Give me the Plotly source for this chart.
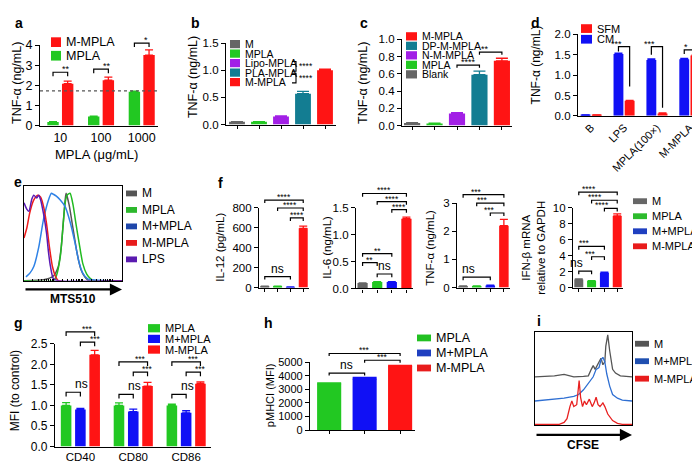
import math
import plotly.graph_objects as go

W, H = 700, 463
FONT = "Arial, 'Liberation Sans', sans-serif"

RED = "#ff1414"
GREEN = "#22c822"
BLUE = "#1010f5"
GRAY = "#666666"
PURPLE = "#a21fe6"
TEAL = "#137d92"

# ---- data ----
a_doses = ["10", "100", "1000"]
a_mpla = [0.18, 0.45, 1.68]
a_mpla_err = [0.02, 0.02, 0.03]
a_mmpla = [2.08, 2.25, 3.50]
a_mmpla_err = [0.13, 0.16, 0.26]
a_cutoff = 1.72

b_groups = ["M", "MPLA", "Lipo-MPLA", "PLA-MPLA", "M-MPLA"]
b_vals = [0.05, 0.05, 0.15, 0.57, 1.0]
b_err = [0.005, 0.005, 0.01, 0.04, 0.02]

c_groups = ["Blank", "MPLA", "N-M-MPLA", "DP-M-MPLA", "M-MPLA"]
c_vals = [0.03, 0.025, 0.14, 0.59, 0.75]
c_err = [0.004, 0.004, 0.01, 0.04, 0.03]

d_cats = ["B", "LPS", "MPLA(100×)", "M-MPLA"]
d_cm = [0.02, 1.52, 1.37, 1.39]
d_cm_err = [0.005, 0.02, 0.03, 0.02]
d_sfm = [0.02, 0.37, 0.06, 1.48]
d_sfm_err = [0.005, 0.01, 0.01, 0.01]

f_groups = ["M", "MPLA", "M+MPLA", "M-MPLA"]
f_il12 = [10, 10, 5, 595]
f_il12_err = [3, 3, 2, 22]
f_il6 = [0.10, 0.12, 0.12, 1.30]
f_il6_err = [0.005, 0.005, 0.005, 0.03]
f_tnf = [0.05, 0.05, 0.07, 2.20]
f_tnf_err = [0.01, 0.01, 0.01, 0.22]
f_ifnb = [1.0, 0.82, 1.85, 9.0]
f_ifnb_err = [0.08, 0.05, 0.07, 0.25]

g_markers = ["CD40", "CD80", "CD86"]
g_mpla = [1.0, 1.0, 1.0]
g_mpla_err = [0.07, 0.06, 0.03]
g_mplus = [0.90, 0.85, 0.82]
g_mplus_err = [0.03, 0.06, 0.05]
g_mm = [2.23, 1.47, 1.53]
g_mm_err = [0.11, 0.09, 0.04]

h_groups = ["MPLA", "M+MPLA", "M-MPLA"]
h_vals = [3420, 3780, 4700]
h_err = [60, 90, 70]

# histograms (e): fraction of axis width vs normalised count
e_lps_x = [0.0, 0.03, 0.05, 0.08, 0.10, 0.13, 0.15, 0.17, 0.20, 0.23, 0.25, 0.27, 0.30, 0.35, 1.0]
e_lps_y = [0.82, 0.75, 0.73, 0.86, 0.90, 0.87, 0.90, 0.85, 0.70, 0.50, 0.30, 0.15, 0.02, 0.0, 0.0]
e_mm_x = [0.0, 0.03, 0.06, 0.10, 0.14, 0.17, 0.20, 0.23, 0.26, 0.29, 0.32, 0.35, 1.0]
e_mm_y = [0.45, 0.56, 0.72, 0.85, 0.90, 0.88, 0.78, 0.60, 0.35, 0.15, 0.05, 0.0, 0.0]
e_mp_x = [0.02, 0.06, 0.10, 0.15, 0.20, 0.25, 0.28, 0.30, 0.33, 0.37, 0.42, 0.47, 0.52, 0.56, 0.60, 0.65, 1.0]
e_mp_y = [0.04, 0.08, 0.15, 0.35, 0.65, 0.85, 0.92, 0.91, 0.89, 0.85, 0.78, 0.62, 0.40, 0.20, 0.08, 0.02, 0.0]
e_m_x = [0.0, 0.20, 0.30, 0.35, 0.38, 0.40, 0.42, 0.43, 0.46, 0.50, 0.54, 0.58, 0.62, 0.66, 1.0]
e_m_y = [0.0, 0.01, 0.05, 0.15, 0.35, 0.60, 0.85, 0.92, 0.80, 0.55, 0.30, 0.12, 0.04, 0.0, 0.0]
e_mpla_x = [0.0, 0.30, 0.33, 0.37, 0.40, 0.42, 0.44, 0.47, 0.50, 0.53, 0.57, 0.60, 0.64, 0.68, 0.72, 1.0]
e_mpla_y = [0.0, 0.0, 0.05, 0.25, 0.60, 0.82, 0.90, 0.92, 0.80, 0.60, 0.35, 0.18, 0.07, 0.02, 0.0, 0.0]

# histograms (i), offset curves
i_m_x = [0.0, 0.10, 0.20, 0.30, 0.35, 0.40, 0.50, 0.55, 0.58, 0.60, 0.62, 0.65, 0.68, 0.70, 0.72, 0.73, 0.75, 0.77, 0.80, 0.83, 0.88, 1.0]
i_m_y = [0.52, 0.525, 0.53, 0.545, 0.535, 0.52, 0.525, 0.53, 0.60, 0.64, 0.60, 0.66, 0.72, 0.65, 0.68, 0.85, 0.97, 0.80, 0.60, 0.56, 0.53, 0.52]
i_mp_x = [0.0, 0.10, 0.20, 0.30, 0.40, 0.45, 0.50, 0.55, 0.60, 0.63, 0.66, 0.68, 0.70, 0.72, 0.74, 0.77, 0.80, 0.85, 0.90, 1.0]
i_mp_y = [0.26, 0.27, 0.28, 0.29, 0.31, 0.33, 0.38, 0.45, 0.52, 0.60, 0.62, 0.70, 0.73, 0.68, 0.55, 0.42, 0.33, 0.29, 0.27, 0.26]
i_mm_x = [0.0, 0.25, 0.30, 0.33, 0.36, 0.38, 0.40, 0.43, 0.455, 0.47, 0.49, 0.51, 0.53, 0.56, 0.59, 0.61, 0.63, 0.65, 0.67, 0.70, 0.72, 0.75, 0.80, 0.85, 0.90, 1.0]
i_mm_y = [0.01, 0.01, 0.03, 0.07, 0.20, 0.26, 0.20, 0.22, 0.48, 0.30, 0.20, 0.26, 0.22, 0.28, 0.20, 0.24, 0.30, 0.22, 0.20, 0.24, 0.20, 0.12, 0.05, 0.02, 0.01, 0.01]

fig = go.Figure()
PANELS = {}


def sfx(n):
    return "" if n == 1 else str(n)


def setup(n, box, xr, yr, ytv=None, yfmt="", xtv=None, xtt=None, xticks="",
          framed=False, tfs=11.5, xtfs=12, xangle=0):
    x0, x1, yt, yb = box
    PANELS[n] = (box, xr, yr)
    s = sfx(n)
    xa = dict(domain=[x0 / W, x1 / W], range=xr, anchor="y" + s, showline=True,
              linecolor="black", linewidth=1.2, showgrid=False, zeroline=False,
              ticks=xticks, ticklen=3, tickcolor="black", tickwidth=1.2,
              mirror=framed, tickfont=dict(size=xtfs), tickangle=xangle)
    if xtv is not None:
        xa.update(tickmode="array", tickvals=xtv, ticktext=xtt if xtt else [""] * len(xtv))
    else:
        xa.update(showticklabels=False)
    ya = dict(domain=[1 - yb / H, 1 - yt / H], range=yr, anchor="x" + s, showline=True,
              linecolor="black", linewidth=1.2, showgrid=False, zeroline=False,
              mirror=framed, tickfont=dict(size=tfs))
    if ytv is not None:
        ya.update(tickmode="array", tickvals=ytv, tickformat=yfmt, ticks="outside",
                  ticklen=4, tickcolor="black", tickwidth=1.2)
    else:
        ya.update(showticklabels=False, ticks="")
    fig.update_layout(**{"xaxis" + s: xa, "yaxis" + s: ya})


def to_paper(n, x, y):
    (x0, x1, yt, yb), xr, yr = PANELS[n]
    px = x0 + (x - xr[0]) / (xr[1] - xr[0]) * (x1 - x0)
    py = yb - (y - yr[0]) / (yr[1] - yr[0]) * (yb - yt)
    return px / W, 1 - py / H


def bars(n, xs, ys, err, color, width, capw=3):
    s = sfx(n)
    fig.add_trace(go.Bar(x=xs, y=ys, width=width, xaxis="x" + s, yaxis="y" + s,
                         marker=dict(color=color, line=dict(width=0)),
                         error_y=dict(type="data", array=err, arrayminus=[0] * len(err),
                                      symmetric=False, color=color, thickness=1.3, width=capw),
                         showlegend=False, hoverinfo="skip"))


def bracket(n, xa, xb, y, label, leg, legb=None, fs=9):
    legb = leg if legb is None else legb
    pts = [to_paper(n, xa, y - leg), to_paper(n, xa, y), to_paper(n, xb, y), to_paper(n, xb, y - legb)]
    path = "M " + " L ".join(f"{px},{py}" for px, py in pts)
    fig.add_shape(type="path", xref="paper", yref="paper", path=path,
                  line=dict(color="black", width=1.2))
    star = label.startswith("*")
    mx, my = to_paper(n, (xa + xb) / 2, y)
    fig.add_annotation(x=mx, y=my, xref="paper", yref="paper", text=label,
                       showarrow=False, yanchor="bottom", yshift=-4 if star else -1,
                       font=dict(size=fs if star else 12))


def legend(items, x, y0, dy, sw=11, sh=9, fs=12, tx=None):
    tx = x + sw + 3 if tx is None else tx
    for k, (name, color) in enumerate(items):
        yc = y0 + k * dy
        fig.add_shape(type="rect", xref="paper", yref="paper", x0=x / W, x1=(x + sw) / W,
                      y0=1 - (yc + sh / 2) / H, y1=1 - (yc - sh / 2) / H,
                      fillcolor=color, line=dict(width=0))
        fig.add_annotation(x=tx / W, y=1 - yc / H, xref="paper", yref="paper", text=name,
                           showarrow=False, xanchor="left", yanchor="middle", font=dict(size=fs))


def text(x, y, t, fs=12, angle=0, bold=False, anchor="center"):
    fig.add_annotation(x=x / W, y=1 - y / H, xref="paper", yref="paper",
                       text=f"<b>{t}</b>" if bold else t, showarrow=False, textangle=angle,
                       xanchor=anchor, yanchor="middle", font=dict(size=fs))


def idx(v, off=0.0):
    return [i + off for i in range(len(v))]


# ---- a ----
setup(1, (32, 150, 31, 114), [-0.5, 2.4], [0, 4], ytv=[0, 1, 2, 3, 4],
      xtv=idx(a_doses), xtt=a_doses, xtfs=12.5, tfs=12.5)
bars(1, idx(a_mpla, -0.18), a_mpla, a_mpla_err, GREEN, 0.28, 4)
bars(1, idx(a_mmpla, 0.18), a_mmpla, a_mmpla_err, RED, 0.28, 4)
fig.add_shape(type="line", xref="x domain", yref="y", x0=0, x1=1, y0=a_cutoff, y1=a_cutoff,
              line=dict(color="#555555", width=1.2, dash="dot"))
for i, (yb, lab) in enumerate([(2.65, "**"), (2.8, "**"), (4.1, "*")]):
    bracket(1, i - 0.18, i + 0.18, yb, lab, 0.2)
legend([("M-MPLA", RED), ("MPLA", GREEN)], 43, 28, 14, sw=10, sh=10, fs=12.5)
text(9, 70, "TNF-α (ng/mL)", 12.5, -90)
text(88, 144, "MPLA (μg/mL)", 13)

# ---- b ----
setup(2, (218, 328, 29, 113), [-0.5, 4.5], [0, 1.5], ytv=[0, 0.5, 1.0, 1.5], yfmt=".1f",
      xtv=idx(b_vals), xticks="outside")
b_cols = [GRAY, GREEN, PURPLE, TEAL, RED]
for i in range(5):
    bars(2, [i], [b_vals[i]], [b_err[i]], b_cols[i], 0.72, 6)
legend(list(zip(b_groups, b_cols)), 222, 30, 9.8, sw=10, sh=8.5, fs=10.5)
for yt, yb, ys in [(48, 58, 53), (60, 70, 65)]:
    fig.add_shape(type="path", xref="paper", yref="paper",
                  path=f"M {284/W},{1-yt/H} L {288/W},{1-yt/H} L {288/W},{1-yb/H} L {284/W},{1-yb/H}",
                  line=dict(color="black", width=1.1))
    text(289, ys, "****", 8.5, anchor="left")
text(185, 64, "TNF-α (ng/mL)", 12.5, -90)

# ---- c ----
setup(3, (394, 504, 25, 114), [-0.45, 4.45], [0, 1.0], ytv=[0, 0.2, 0.4, 0.6, 0.8, 1.0],
      yfmt=".1f", xtv=idx(c_vals), xticks="outside")
c_cols = [GRAY, GREEN, PURPLE, TEAL, RED]
for i in range(5):
    bars(3, [i], [c_vals[i]], [c_err[i]], c_cols[i], 0.72, 6)
bracket(3, 2, 3, 0.70, "****", 0.03)
bracket(3, 3, 4, 0.85, "**", 0.03)
legend([(c_groups[4], RED), (c_groups[3], TEAL), (c_groups[2], PURPLE),
        (c_groups[1], GREEN), (c_groups[0], GRAY)], 398, 22, 9.8, sw=11, sh=8.5, fs=10.5)
text(355, 70, "TNF-α (ng/mL)", 12.5, -90)

# ---- d ----
setup(4, (570, 695, 20, 104), [-0.4, 3.4], [0, 2.0], ytv=[0, 0.5, 1.0, 1.5, 2.0], yfmt=".1f",
      xtv=idx(d_cats), xtt=d_cats, xangle=-45, xtfs=11)
bars(4, idx(d_cm, -0.17), d_cm, d_cm_err, BLUE, 0.3, 4)
bars(4, idx(d_sfm, 0.17), d_sfm, d_sfm_err, RED, 0.3, 4)
bracket(4, 1 - 0.17, 1 + 0.17, 1.70, "***", 0.12, 0.98)
bracket(4, 2 - 0.17, 2 + 0.17, 1.70, "***", 0.2, 1.5)
bracket(4, 3 - 0.17, 3 + 0.17, 1.62, "*", 0.1, 0.05)
legend([("SFM", RED), ("CM", BLUE)], 573, 14, 11, sw=11, sh=9, fs=11)
text(528, 52, "TNF-α (ng/mL)", 12, -90)

# ---- e ----
setup(5, (16, 114, 176, 274), [0, 1], [0, 1.0], framed=True, xticks="inside")
e_ticks = sorted({d * 0.3 + 0.3 * math.log10(k) for d in range(4) for k in range(1, 10)} | {1.0})
fig.update_layout(xaxis5=dict(tickmode="array", tickvals=[t for t in e_ticks if t <= 1.0],
                              ticklen=2, showticklabels=False))
for xs, ys, col in [(e_m_x, e_m_y, "#555555"), (e_mpla_x, e_mpla_y, "#22bb22"),
                    (e_mp_x, e_mp_y, "#2f82e6"), (e_mm_x, e_mm_y, "#ee1c1c"),
                    (e_lps_x, e_lps_y, "#5a1ab4")]:
    fig.add_trace(go.Scatter(x=xs, y=ys, mode="lines", line=dict(color=col, width=1.5, shape="spline", smoothing=0.6),
                             xaxis="x5", yaxis="y5", showlegend=False, hoverinfo="skip"))
legend([("M", "#555555"), ("MPLA", "#2db82d"), ("M+MPLA", "#1f47aa"), ("M-MPLA", "#e81c1c"),
        ("LPS", "#5a1ab0")], 118, 184, 17, sw=11, sh=6, fs=12)
fig.add_annotation(x=114 / W, y=1 - 283 / H, xref="paper", yref="paper", ax=-98, ay=0,
                   showarrow=True, arrowhead=2, arrowsize=1.1, arrowwidth=2.2, arrowcolor="black", text="")
text(65, 293, "MTS510", 12, bold=True)

# ---- f ----
f_cols = [GRAY, GREEN, BLUE, RED]
f_specs = [
    (6, (251, 301, 199, 281), [0, 800], [0, 200, 400, 600, 800], "", f_il12, f_il12_err,
     [(0, 2, 110, "ns"), (0, 3, 880, "****"), (1, 3, 800, "****"), (2, 3, 700, "****")], 30,
     "IL-12 (pg/mL)", 212),
    (7, (348, 405, 199, 282), [0, 1.5], [0, 0.5, 1.0, 1.5], ".1f", f_il6, f_il6_err,
     [(1, 2, 0.27, "ns"), (0, 1, 0.48, "**"), (0, 2, 0.65, "**"), (0, 3, 1.77, "****"),
      (1, 3, 1.62, "****"), (2, 3, 1.47, "****")], 0.06, "IL-6 (ng/mL)", 319),
    (8, (449, 502, 194, 281), [0, 3], [0, 1, 2, 3], "", f_tnf, f_tnf_err,
     [(0, 2, 0.37, "ns"), (0, 3, 3.3, "***"), (1, 3, 3.0, "***"), (2, 3, 2.65, "***")], 0.11,
     "TNF-α (ng/mL)", 422),
    (9, (565, 615, 199, 281), [0, 10], [0, 2, 4, 6, 8, 10], "", f_ifnb, f_ifnb_err,
     [(0, 1, 2.07, "ns"), (1, 2, 3.87, "***"), (0, 2, 5.16, "***"), (0, 3, 12.0, "****"),
      (1, 3, 10.97, "****"), (2, 3, 9.96, "****")], 0.4,
     "IFN-β mRNA<br>relative to GAPDH", 526),
]
for n, box, yr, ytv, fmt, vals, err, brs, leg, title, tx in f_specs:
    setup(n, box, [-0.45, 3.45], yr, ytv=ytv, yfmt=fmt, xtv=idx(vals), xticks="outside", tfs=11.5)
    for i in range(4):
        bars(n, [i], [vals[i]], [err[i]], f_cols[i], 0.7, 4)
    for xa, xb, yb, lab in brs:
        bracket(n, xa, xb, yb, lab, leg, fs=8.5)
    text(tx, 240, title, 11.5, -90)
legend(list(zip(f_groups, ["#666666", "#2dbb2d", "#1f3fc0", "#e81c1c"])), 625, 192, 15.5,
       sw=14, sh=6, fs=11)

# ---- g ----
setup(10, (47, 203, 339, 445), [-0.48, 2.47], [0, 2.5], ytv=[0, 0.5, 1.0, 1.5, 2.0, 2.5],
      yfmt=".1f", xtv=idx(g_markers), xtt=g_markers, tfs=12, xtfs=11.5)
bars(10, idx(g_mpla, -0.27), g_mpla, g_mpla_err, GREEN, 0.2, 4)
bars(10, idx(g_mplus, 0.0), g_mplus, g_mplus_err, BLUE, 0.2, 4)
bars(10, idx(g_mm, 0.27), g_mm, g_mm_err, RED, 0.2, 4)
for i, (ns_y, y13, y23) in enumerate([(1.32, 2.79, 2.54), (1.27, 2.06, 1.81), (1.27, 2.06, 1.81)]):
    bracket(10, i - 0.27, i, ns_y, "ns", 0.1)
    bracket(10, i - 0.27, i + 0.27, y13, "***", 0.1, fs=8.5)
    bracket(10, i, i + 0.27, y23, "***", 0.1, fs=8.5)
legend([("MPLA", GREEN), ("M+MPLA", BLUE), ("M-MPLA", RED)], 140, 323, 11, sw=12, sh=8.5, fs=11)
text(7, 388, "MFI (to control)", 12, -90)

# ---- h ----
setup(11, (302, 407, 358, 428), [-0.54, 2.42], [0, 5000], ytv=[0, 1000, 2000, 3000, 4000, 5000],
      xtv=idx(h_vals), xticks="outside", tfs=11)
h_cols = [GREEN, BLUE, RED]
for i in range(3):
    bars(11, [i], [h_vals[i]], [h_err[i]], h_cols[i], 0.68, 12)
bracket(11, 0, 1, 4200, "ns", 180)
bracket(11, 0, 2, 5640, "***", 180, fs=8.5)
bracket(11, 1, 2, 5140, "***", 180, fs=8.5)
legend(list(zip(h_groups, ["#22c022", "#1f3fc0", "#e81c1c"])), 409, 333, 15.5, sw=14, sh=7, fs=12.5)
text(262, 392, "pMHCI (MFI)", 11, -90)

# ---- i ----
setup(12, (527, 624, 327, 423), [0, 1], [0, 1.0], framed=True)
for xs, ys, col in [(i_m_x, i_m_y, "#555555"), (i_mp_x, i_mp_y, "#2f6fd2"), (i_mm_x, i_mm_y, "#e82020")]:
    fig.add_trace(go.Scatter(x=xs, y=ys, mode="lines", line=dict(color=col, width=1.3),
                             xaxis="x12", yaxis="y12", showlegend=False, hoverinfo="skip"))
legend([("M", "#555555"), ("M+MPLA", "#1f4fb0"), ("M-MPLA", "#e81c1c")], 627, 339, 18,
       sw=14, sh=6, fs=11)
fig.add_annotation(x=624 / W, y=1 - 433 / H, xref="paper", yref="paper", ax=-97, ay=0,
                   showarrow=True, arrowhead=2, arrowsize=1.1, arrowwidth=2.2, arrowcolor="black", text="")
text(575, 443, "CFSE", 12, bold=True)

# panel letters
for lab, x, y in [("a", 5, 8), ("b", 181, 8), ("c", 350, 8), ("d", 521, 8), ("e", 4, 172),
                  ("f", 208, 173), ("g", 4, 318), ("h", 254, 318), ("i", 527, 316)]:
    text(x, y, lab, 14, bold=True, anchor="left")

fig.update_layout(width=W, height=H, margin=dict(l=0, r=0, t=0, b=0), barmode="overlay",
                  plot_bgcolor="white", paper_bgcolor="white", showlegend=False,
                  font=dict(family=FONT, color="black"))
fig.write_html("out.html")
